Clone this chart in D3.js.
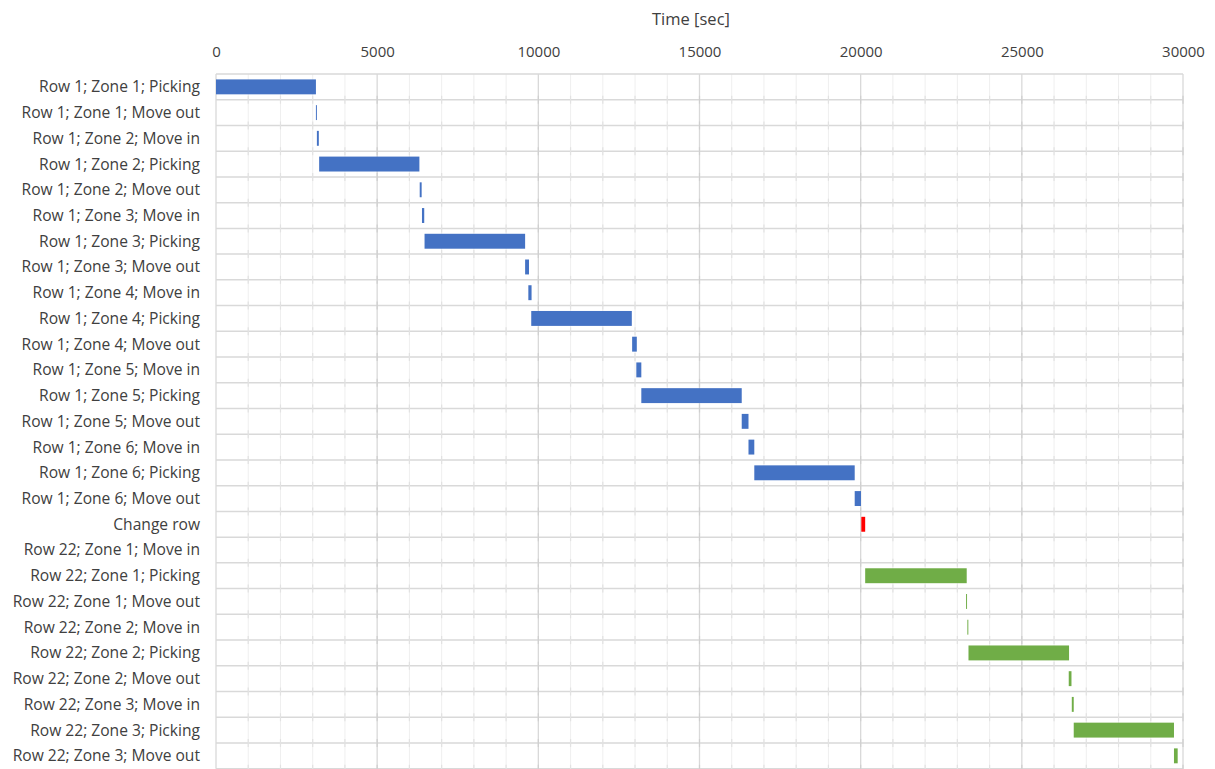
<!DOCTYPE html>
<html>
<head>
<meta charset="utf-8">
<script src="https://cdn.jsdelivr.net/npm/d3@7"></script>
<style>
  html, body { margin: 0; padding: 0; background: #fff; }
  svg { display: block; }
  text { font-family: "Open Sans", "Noto Sans", sans-serif; fill: #404040; }
</style>
</head>
<body>
<svg id="chart" width="1215" height="769"></svg>
<script>
// Activity schedule: one row per task, bar from start time over its duration (seconds)
const tasks = [
  "Row 1; Zone 1; Picking", "Row 1; Zone 1; Move out", "Row 1; Zone 2; Move in",
  "Row 1; Zone 2; Picking", "Row 1; Zone 2; Move out", "Row 1; Zone 3; Move in",
  "Row 1; Zone 3; Picking", "Row 1; Zone 3; Move out", "Row 1; Zone 4; Move in",
  "Row 1; Zone 4; Picking", "Row 1; Zone 4; Move out", "Row 1; Zone 5; Move in",
  "Row 1; Zone 5; Picking", "Row 1; Zone 5; Move out", "Row 1; Zone 6; Move in",
  "Row 1; Zone 6; Picking", "Row 1; Zone 6; Move out", "Change row",
  "Row 22; Zone 1; Move in", "Row 22; Zone 1; Picking", "Row 22; Zone 1; Move out",
  "Row 22; Zone 2; Move in", "Row 22; Zone 2; Picking", "Row 22; Zone 2; Move out",
  "Row 22; Zone 3; Move in", "Row 22; Zone 3; Picking", "Row 22; Zone 3; Move out"
];
const starts = [
  0, 3100, 3130, 3200, 6320, 6390, 6470, 9590, 9690, 9780, 12910, 13040, 13195,
  16310, 16520, 16700, 19815, 20020, 20140, 20140, 23270, 23310, 23345, 26455,
  26550, 26610, 29720
];
const durations = [
  3100, 30, 60, 3110, 60, 70, 3120, 120, 100, 3120, 145, 155, 3115,
  210, 180, 3115, 195, 120, 0, 3150, 30, 30, 3120, 85,
  60, 3110, 115
];
const groups = [
  "Row 1", "Row 1", "Row 1", "Row 1", "Row 1", "Row 1", "Row 1", "Row 1", "Row 1",
  "Row 1", "Row 1", "Row 1", "Row 1", "Row 1", "Row 1", "Row 1", "Row 1", "Change",
  "Row 22", "Row 22", "Row 22", "Row 22", "Row 22", "Row 22", "Row 22", "Row 22", "Row 22"
];
const xTicks = [0, 5000, 10000, 15000, 20000, 25000, 30000];
const xMinor = d3.range(0, 30001, 1000);

const colorOf = d3.scaleOrdinal()
  .domain(["Row 1", "Change", "Row 22"])
  .range(["#4472C4", "#FF0000", "#70AD47"]);

const plotLeft = 216, plotRight = 1183, plotTop = 74, rowH = 25.73;
const plotBottom = plotTop + rowH * tasks.length;

const x = d3.scaleLinear().domain([0, 30000]).range([plotLeft, plotRight]);
const y = d3.scaleBand().domain(tasks).range([plotTop, plotBottom])
  .paddingInner(0.42).paddingOuter(0.21);

const svg = d3.select("#chart");

// minor vertical grid
svg.append("g").selectAll("line").data(xMinor.filter(v => v % 5000 !== 0)).join("line")
  .attr("x1", d => x(d)).attr("x2", d => x(d))
  .attr("y1", plotTop).attr("y2", plotBottom)
  .attr("stroke", "#efefef").attr("stroke-width", 1);

// major vertical grid
svg.append("g").selectAll("line").data(xTicks).join("line")
  .attr("x1", d => x(d)).attr("x2", d => x(d))
  .attr("y1", plotTop).attr("y2", plotBottom)
  .attr("stroke", "#d9d9d9").attr("stroke-width", 1.3);

// row separators
const rowEdges = tasks.map(t => y(t) - y.step() * y.paddingInner() / 2).concat([plotBottom]);
svg.append("g").selectAll("line").data(rowEdges).join("line")
  .attr("x1", plotLeft).attr("x2", plotRight)
  .attr("y1", d => d).attr("y2", d => d)
  .attr("stroke", "#d9d9d9").attr("stroke-width", 1.5);

// small tick marks where gridlines cross row separators
const crossings = [];
rowEdges.slice(1).forEach(e => xMinor.slice(1).forEach(v => crossings.push([v, e])));
svg.append("g").selectAll("line").data(crossings).join("line")
  .attr("x1", d => x(d[0])).attr("x2", d => x(d[0]))
  .attr("y1", d => d[1] - 4).attr("y2", d => d[1] + 4)
  .attr("stroke", d => d[0] % 5000 === 0 ? "#cfcfcf" : "#e2e2e2").attr("stroke-width", 1.2);

// top axis
const axis = svg.append("g").attr("transform", `translate(0,${plotTop})`)
  .call(d3.axisTop(x).tickValues(xTicks).tickFormat(d3.format("d")).tickSize(0).tickPadding(17));
axis.select(".domain").remove();
axis.selectAll("text").style("font-size", "15px").attr("fill", "#404040");

svg.append("text")
  .attr("x", 691).attr("y", 24.5)
  .attr("text-anchor", "middle").style("font-size", "16.5px")
  .text("Time [sec]");

// category labels
svg.append("g").selectAll("text").data(tasks).join("text")
  .attr("x", 200).attr("y", d => y(d) + y.bandwidth() / 2)
  .attr("dy", "0.35em").attr("text-anchor", "end")
  .style("font-size", "15.6px")
  .text(d => d);

// bars
svg.append("g").selectAll("rect").data(tasks.map((t, i) => ({ t, s: starts[i], d: durations[i], g: groups[i] })))
  .join("rect")
  .attr("x", d => x(d.s))
  .attr("y", d => y(d.t))
  .attr("width", d => x(d.s + d.d) - x(d.s))
  .attr("height", y.bandwidth())
  .attr("fill", d => colorOf(d.g));
</script>
</body>
</html>
